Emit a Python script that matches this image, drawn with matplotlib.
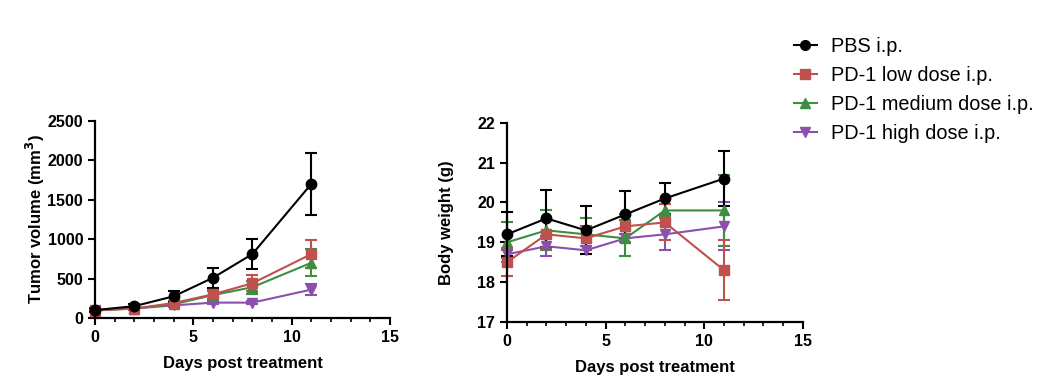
import numpy as np
import matplotlib.pyplot as plt
from matplotlib.ticker import MultipleLocator
from matplotlib.lines import Line2D

plt.rcParams['font.family'] = ['Liberation Sans', 'DejaVu Sans']

days = [0, 2, 4, 6, 8, 11]
groups = ['PBS i.p.', 'PD-1 low dose i.p.', 'PD-1 medium dose i.p.', 'PD-1 high dose i.p.']
colors = ['#000000', '#c0504d', '#3e8e41', '#8b4fb0']
markers = ['o', 's', '^', 'v']

# tumor volume (mm3), mean and error
tv_pbs = [100, 150, 275, 510, 810, 1700]
tv_pbs_err = [30, 25, 70, 125, 190, 390]
tv_low = [95, 120, 190, 300, 440, 810]
tv_low_err = [15, 15, 30, 60, 100, 180]
tv_med = [100, 120, 175, 290, 390, 700]
tv_med_err = [15, 15, 25, 50, 80, 170]
tv_high = [100, 120, 160, 195, 195, 360]
tv_high_err = [10, 10, 15, 20, 20, 70]

# body weight (g)
bw_pbs = [19.2, 19.6, 19.3, 19.7, 20.1, 20.6]
bw_pbs_err = [0.55, 0.72, 0.6, 0.58, 0.4, 0.7]
bw_low = [18.5, 19.2, 19.1, 19.4, 19.5, 18.3]
bw_low_err = [0.35, 0.35, 0.3, 0.3, 0.45, 0.75]
bw_med = [19.0, 19.3, 19.2, 19.1, 19.8, 19.8]
bw_med_err = [0.5, 0.5, 0.4, 0.45, 0.15, 0.9]
bw_high = [18.7, 18.9, 18.8, 19.1, 19.2, 19.4]
bw_high_err = [0.1, 0.25, 0.1, 0.1, 0.4, 0.6]

tv = [(tv_pbs, tv_pbs_err), (tv_low, tv_low_err), (tv_med, tv_med_err), (tv_high, tv_high_err)]
bw = [(bw_pbs, bw_pbs_err), (bw_low, bw_low_err), (bw_med, bw_med_err), (bw_high, bw_high_err)]

fig = plt.figure(figsize=(10.44, 3.85), dpi=100)
ax1 = fig.add_axes([0.091, 0.174, 0.2826, 0.5125])
ax2 = fig.add_axes([0.4856, 0.1636, 0.2835, 0.5175])


def draw(ax, data):
    # draw from last to first so PBS sits on top
    for i in range(len(data) - 1, -1, -1):
        y, e = data[i]
        h = ax.errorbar(days, y, yerr=e, color=colors[i], marker=markers[i],
                        markersize=7.5, linewidth=1.5, elinewidth=1.5,
                        capsize=4, capthick=1.5, clip_on=False)
        for art in h.lines[1] + h.lines[2]:
            art.set_clip_on(False)


def style(ax):
    for s in ['top', 'right']:
        ax.spines[s].set_visible(False)
    for s in ['left', 'bottom']:
        ax.spines[s].set_linewidth(1.6)
    ax.set_xlim(0, 15)
    ax.xaxis.set_major_locator(MultipleLocator(5))
    ax.xaxis.set_minor_locator(MultipleLocator(1))
    ax.tick_params(which='major', length=5, width=1.5, labelsize=11.5)
    ax.tick_params(which='minor', axis='x', length=3, width=1.2)
    for lab in ax.get_xticklabels() + ax.get_yticklabels():
        lab.set_fontweight('bold')
    ax.set_xlabel('Days post treatment', fontsize=12, fontweight='bold', labelpad=8)


draw(ax1, tv)
ax1.set_ylim(0, 2500)
ax1.yaxis.set_major_locator(MultipleLocator(500))
ax1.set_ylabel('Tumor volume (mm$^\\mathbf{3}$)', fontsize=12, fontweight='bold', labelpad=0)
style(ax1)

draw(ax2, bw)
ax2.set_ylim(17, 22)
ax2.yaxis.set_major_locator(MultipleLocator(1))
ax2.set_ylabel('Body weight (g)', fontsize=12, fontweight='bold', labelpad=17)
style(ax2)

handles = [Line2D([], [], color=c, marker=m, markersize=7, linewidth=1.5)
           for c, m in zip(colors, markers)]
fig.legend(handles, groups, loc='upper left', bbox_to_anchor=(0.743, 0.95),
           frameon=False, fontsize=14.3, handlelength=1.2, handletextpad=0.67,
           labelspacing=0.5)

fig.savefig('out.png', dpi=100)
